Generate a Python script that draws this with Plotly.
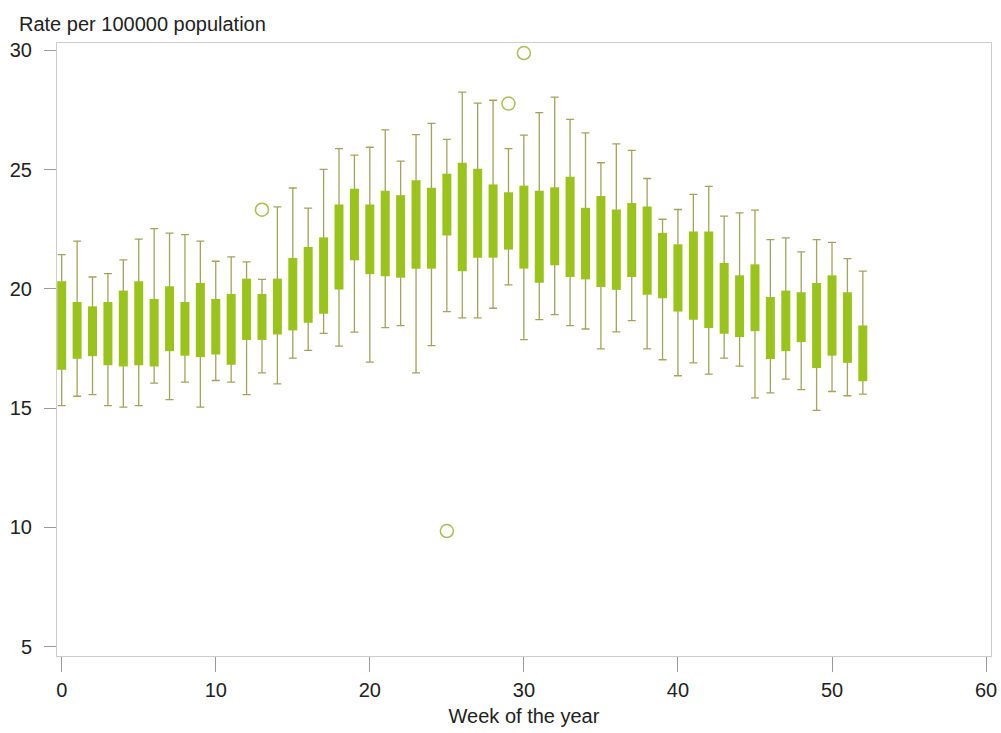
import plotly.graph_objects as go

weeks = list(range(53))
whisker_high = [21.44, 22.00, 20.50, 20.64, 21.22, 22.09, 22.53, 22.34, 22.28, 22.00,
                21.16, 21.34, 21.13, 20.40, 23.44, 24.23, 23.39, 25.01, 25.88, 25.61,
                25.94, 26.67, 25.36, 26.47, 26.94, 26.27, 28.25, 27.79, 27.91, 25.88,
                26.45, 27.39, 28.04, 27.11, 26.54, 25.29, 26.08, 25.81, 24.63, 22.92,
                23.33, 23.96, 24.30, 23.05, 23.19, 23.30, 22.07, 22.14, 21.55, 22.07,
                21.95, 21.27, 20.75]
q3 = [20.32, 19.45, 19.27, 19.45, 19.93, 20.32, 19.58, 20.11, 19.45, 20.25,
      19.58, 19.79, 20.43, 19.79, 20.43, 21.30, 21.76, 22.16, 23.54, 24.20,
      23.54, 24.12, 23.93, 24.56, 24.24, 24.83, 25.29, 25.04, 24.38, 24.05,
      24.33, 24.12, 24.26, 24.70, 23.40, 23.90, 23.33, 23.60, 23.46, 22.35,
      21.87, 22.41, 22.41, 21.09, 20.57, 21.03, 19.66, 19.93, 19.86, 20.25,
      20.57, 19.86, 18.47]
q1 = [16.61, 17.07, 17.18, 16.80, 16.75, 16.80, 16.75, 17.39, 17.20, 17.14,
      17.25, 16.82, 17.86, 17.86, 18.09, 18.26, 18.58, 18.96, 19.98, 21.20,
      20.62, 20.53, 20.47, 20.85, 20.85, 22.24, 20.74, 21.31, 21.31, 21.65,
      20.85, 20.26, 20.99, 20.50, 20.40, 20.08, 19.96, 20.50, 19.76, 19.61,
      19.05, 18.71, 18.36, 18.12, 17.98, 18.23, 17.06, 17.39, 17.77, 16.68,
      17.20, 16.90, 16.13]
whisker_low = [15.11, 15.50, 15.57, 15.11, 15.04, 15.11, 16.05, 15.36, 16.09, 15.04,
               16.16, 16.09, 15.57, 16.48, 16.02, 17.10, 17.42, 18.14, 17.60, 18.19,
               16.93, 18.38, 18.46, 16.48, 17.62, 19.05, 18.79, 18.79, 19.19, 20.17,
               17.87, 18.71, 18.92, 18.46, 18.32, 17.49, 18.20, 18.67, 17.49, 17.03,
               16.36, 16.90, 16.43, 17.10, 16.76, 15.43, 15.64, 16.22, 15.78, 14.91,
               15.70, 15.52, 15.59]
outlier_weeks = [13, 25, 29, 30]
outlier_values = [23.32, 9.85, 27.77, 29.89]

x_ticks = [0, 10, 20, 30, 40, 50, 60]
y_ticks = [5, 10, 15, 20, 25, 30]

BOX_GREEN = "#9ac41c"
WHISKER = "#a3a35e"
OUTLIER = "#a9bd55"
FONT = "Liberation Sans, Arial, sans-serif"
TEXT = "#222222"

fig = go.Figure()

# whiskers with caps
fig.add_trace(go.Scatter(
    x=weeks, y=whisker_low, mode="markers",
    marker=dict(size=1, opacity=0),
    error_y=dict(type="data", symmetric=False,
                 array=[h - l for h, l in zip(whisker_high, whisker_low)],
                 arrayminus=[0] * len(weeks),
                 color=WHISKER, thickness=1.3, width=4),
    hoverinfo="skip", showlegend=False))

# boxes (q1..q3)
fig.add_trace(go.Scatter(
    x=weeks, y=q1, mode="markers",
    marker=dict(size=1, opacity=0),
    error_y=dict(type="data", symmetric=False,
                 array=[a - b for a, b in zip(q3, q1)],
                 arrayminus=[0] * len(weeks),
                 color=BOX_GREEN, thickness=9, width=0),
    hoverinfo="skip", showlegend=False))

# outliers
fig.add_trace(go.Scatter(
    x=outlier_weeks, y=outlier_values, mode="markers",
    marker=dict(symbol="circle-open", size=13, color=OUTLIER, line=dict(width=1.5, color=OUTLIER)),
    hoverinfo="skip", showlegend=False))

fig.update_layout(
    width=1001, height=733,
    margin=dict(l=57, r=10, t=43, b=77, autoexpand=False),
    paper_bgcolor="white", plot_bgcolor="white",
    font=dict(family=FONT, size=20, color=TEXT),
    showlegend=False,
    annotations=[dict(text="Rate per 100000 population", xref="paper", yref="paper",
                      x=-0.0428, y=1.031, xanchor="left", yanchor="middle",
                      showarrow=False, font=dict(family=FONT, size=20, color=TEXT))],
)

fig.update_xaxes(
    range=[-0.305, 60.32], tickvals=x_ticks, ticks="outside", ticklen=15,
    tickcolor="#9a9a9a", tickwidth=1, showline=True, linecolor="#cccccc", linewidth=1,
    mirror=True, showgrid=False, zeroline=False, ticklabelstandoff=1,
    title=dict(text="Week of the year", standoff=8, font=dict(family=FONT, size=20, color=TEXT)),
    tickfont=dict(family=FONT, size=20, color=TEXT))

fig.update_yaxes(
    range=[4.61, 30.31], tickvals=y_ticks, ticks="outside", ticklen=12,
    tickcolor="#9a9a9a", tickwidth=1, showline=True, linecolor="#cccccc", linewidth=1,
    mirror=True, showgrid=False, zeroline=False, ticklabelstandoff=8,
    tickfont=dict(family=FONT, size=20, color=TEXT))

fig.write_html("out.html", config={"displayModeBar": False},
               post_script="document.body.style.margin='0px';document.body.style.overflow='hidden';")
